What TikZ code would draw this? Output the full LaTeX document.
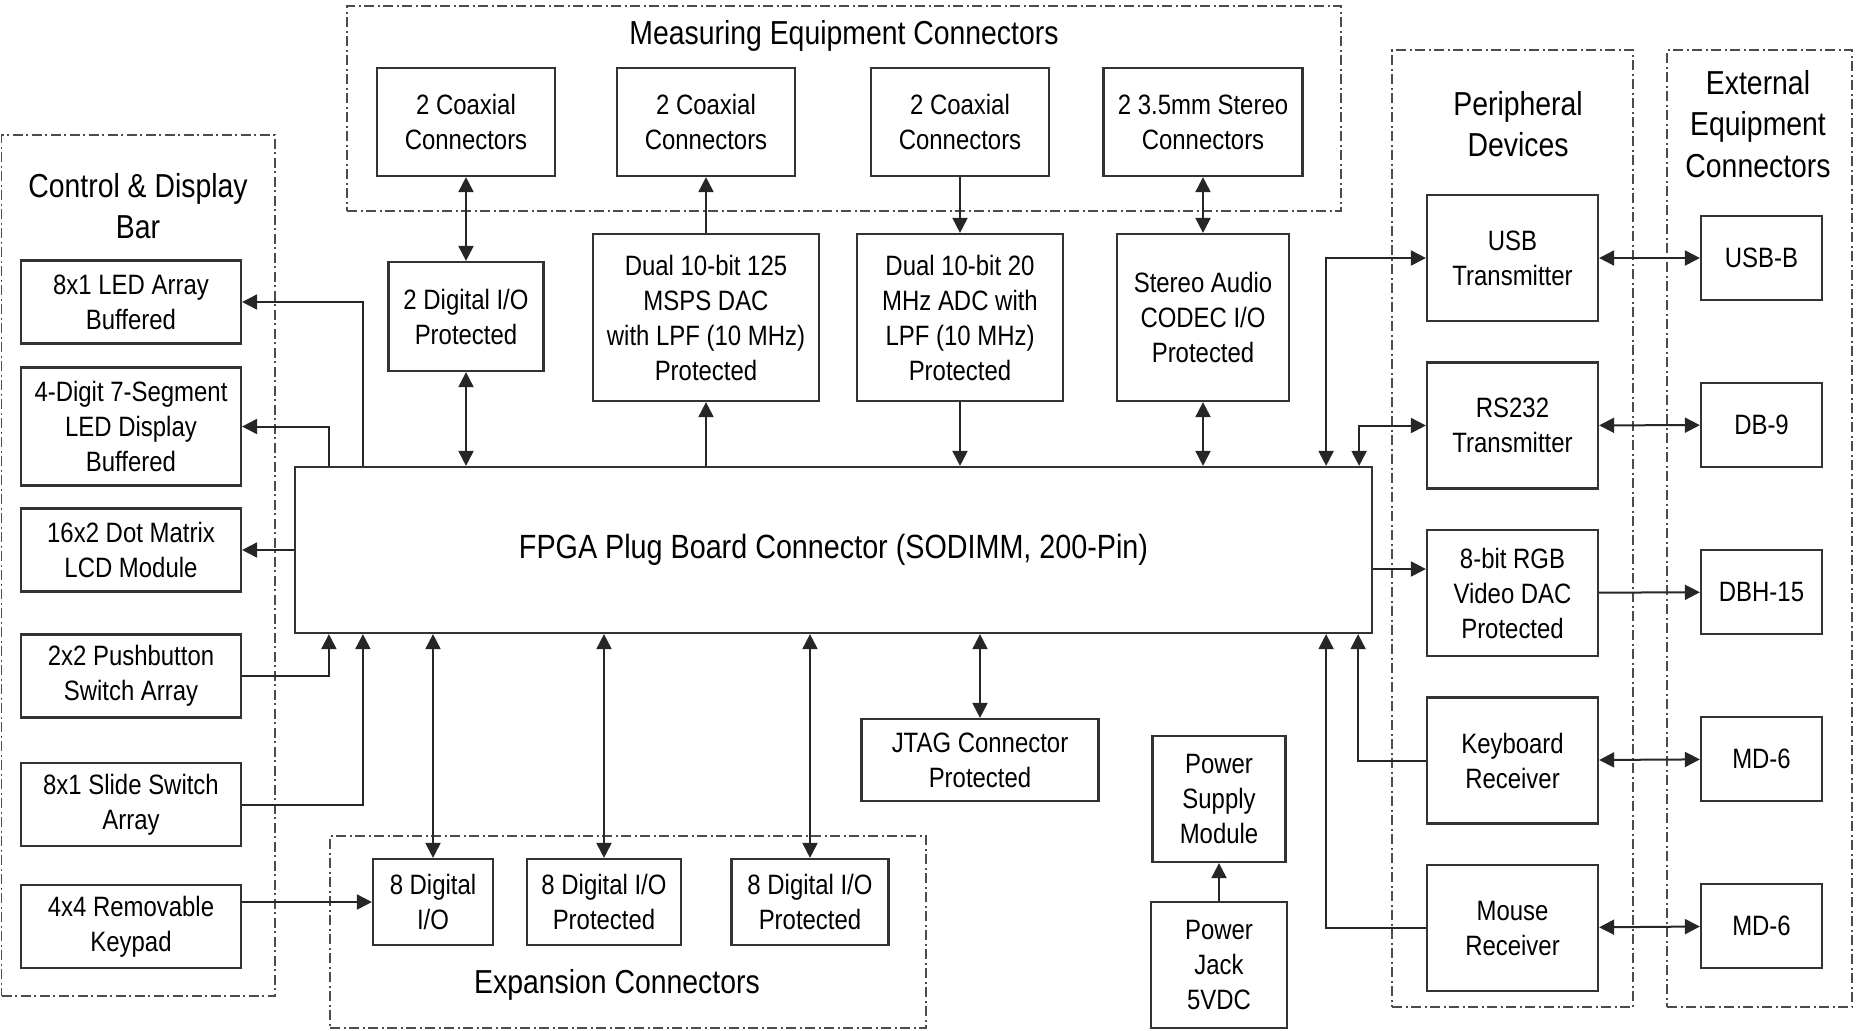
\documentclass[tikz,border=0pt]{standalone}
\usepackage{fontspec}
\setmainfont{Liberation Sans}[FakeStretch=0.855]
\usetikzlibrary{arrows.meta,positioning}

\begin{document}
\begin{tikzpicture}[
    x=0.5pt, y=-0.5pt,
    block/.style={draw=black!80, line width=1.1pt, align=center, inner sep=2pt, font=\fontsize{14}{17.5}\selectfont},
    grpframe/.style={draw=black!70, line width=0.8pt, dash pattern=on 5pt off 1.75pt on 1pt off 1.75pt},
    grptitle/.style={align=center, font=\fontsize{16.6}{20.75}\selectfont},
    line/.style={-{Triangle[length=7.5pt,width=7.5pt]}, line width=1pt, draw=black!85},
    biline/.style={{Triangle[length=7.5pt,width=7.5pt]}-{Triangle[length=7.5pt,width=7.5pt]}, line width=1pt, draw=black!85}
]
\useasboundingbox (0,0) rectangle (1861,1030);

% dash-dot group frames and their titles
\node[grpframe, minimum width=497pt, minimum height=102.5pt] (measgrp) at (844,108.5) {};
\node[grpframe, minimum width=136.75pt, minimum height=430.5pt] (ctrlgrp) at (138.25,565.5) {};
\node[grpframe, minimum width=298pt, minimum height=96pt] (expgrp) at (628,932) {};
\node[grpframe, minimum width=120.5pt, minimum height=478.5pt] (perigrp) at (1512.5,528.5) {};
\node[grpframe, minimum width=92.5pt, minimum height=478.5pt] (extgrp) at (1759.5,528.5) {};

\node[grptitle] (meastitle) at (844,36) {Measuring Equipment Connectors};
\node[grptitle] (ctrltitle) at (138,206) {Control \& Display\\Bar};
\node[grptitle] (exptitle) at (617,985) {Expansion Connectors};
\node[grptitle] (perititle) at (1518,124) {Peripheral\\Devices};
\node[grptitle] (exttitle) at (1758,124) {External\\Equipment\\Connectors};

% measuring equipment row
\node[block, minimum width=89pt, minimum height=54pt] (coax1) at (466,122) {2 Coaxial\\Connectors};
\node[block, minimum width=89pt, minimum height=54pt] (coax2) at (706,122) {2 Coaxial\\Connectors};
\node[block, minimum width=89pt, minimum height=54pt] (coax3) at (960,122) {2 Coaxial\\Connectors};
\node[block, minimum width=99.5pt, minimum height=54pt] (stereo) at (1203,122) {2 3.5mm Stereo\\Connectors};

\node[block, minimum width=77.5pt, minimum height=54.5pt, below=41.9pt of coax1] (dio) {2 Digital I/O\\Protected};
\node[block, minimum width=113pt, minimum height=83.5pt, below=27.9pt of coax2] (dac) {Dual 10-bit 125\\MSPS DAC\\with LPF (10 MHz)\\Protected};
\node[block, minimum width=103pt, minimum height=83.5pt, below=27.9pt of coax3] (adc) {Dual 10-bit 20\\MHz ADC with\\LPF (10 MHz)\\Protected};
\node[block, minimum width=86pt, minimum height=83.5pt, below=27.9pt of stereo] (codec) {Stereo Audio\\CODEC I/O\\Protected};

% plug board
\node[block, minimum width=538.5pt, minimum height=83pt, font=\fontsize{16.8}{20}\selectfont] (fpga) at (833.5,550) {FPGA Plug Board Connector (SODIMM, 200-Pin)};

% control & display bar
\node[block, minimum width=110pt, minimum height=41.5pt] (led) at (131,302) {8x1 LED Array\\Buffered};
\node[block, minimum width=110pt, minimum height=59pt, below=10.9pt of led] (seg) {4-Digit 7-Segment\\LED Display\\Buffered};
\node[block, minimum width=110pt, minimum height=41.5pt, below=10.4pt of seg] (lcd) {16x2 Dot Matrix\\LCD Module};
\node[block, minimum width=110pt, minimum height=41.5pt, below=20.4pt of lcd] (push) {2x2 Pushbutton\\Switch Array};
\node[block, minimum width=110pt, minimum height=41.5pt, below=21.65pt of push] (slide) {8x1 Slide Switch\\Array};
\node[block, minimum width=110pt, minimum height=41.5pt, below=18.4pt of slide] (keypad) {4x4 Removable\\Keypad};

% expansion connectors, JTAG, power
\node[block, minimum width=60pt, minimum height=43pt] (dioa) at (433,902) {8 Digital\\I/O};
\node[block, minimum width=77pt, minimum height=43pt] (diob) at (604,902) {8 Digital I/O\\Protected};
\node[block, minimum width=78.5pt, minimum height=43pt] (dioc) at (810,902) {8 Digital I/O\\Protected};
\node[block, minimum width=118.5pt, minimum height=41pt] (jtag) at (980,760) {JTAG Connector\\Protected};
\node[block, minimum width=66.5pt, minimum height=63pt] (psu) at (1219,799) {Power\\Supply\\Module};
\node[block, minimum width=68pt, minimum height=63pt, below=18.9pt of psu] (jack) {Power\\Jack\\5VDC};

% peripheral devices
\node[block, minimum width=85.5pt, minimum height=63pt] (usb) at (1512.5,258) {USB\\Transmitter};
\node[block, minimum width=85.5pt, minimum height=63pt, below=19.65pt of usb] (rs232) {RS232\\Transmitter};
\node[block, minimum width=85.5pt, minimum height=63pt, below=19.65pt of rs232] (rgb) {8-bit RGB\\Video DAC\\Protected};
\node[block, minimum width=85.5pt, minimum height=63pt, below=19.65pt of rgb] (kbd) {Keyboard\\Receiver};
\node[block, minimum width=85.5pt, minimum height=63pt, below=19.65pt of kbd] (mouse) {Mouse\\Receiver};

% external equipment connectors
\node[block, minimum width=60.5pt, minimum height=42pt] (usbb) at (1761.5,258) {USB-B};
\node[block, minimum width=60.5pt, minimum height=42pt, below=40.4pt of usbb] (db9) {DB-9};
\node[block, minimum width=60.5pt, minimum height=42pt, below=40.4pt of db9] (dbh) {DBH-15};
\node[block, minimum width=60.5pt, minimum height=42pt, below=40.4pt of dbh] (mda) {MD-6};
\node[block, minimum width=60.5pt, minimum height=42pt, below=40.4pt of mda] (mdb) {MD-6};

\coordinate (rgbin) at ([yshift=12pt]rgb.west);

% top connections
\draw[biline] (coax1) -- (dio);
\draw[biline] (dio) -- (dio |- fpga.north);
\draw[line] (dac) -- (coax2);
\draw[line] (fpga.north -| dac) -- (dac);
\draw[line] (coax3) -- (adc);
\draw[line] (adc) -- (adc |- fpga.north);
\draw[biline] (stereo) -- (codec);
\draw[biline] (codec) -- (codec |- fpga.north);

% control & display bar
\draw[line] ([xshift=34.5pt]fpga.north west) |- (led);
\draw[line] ([xshift=17.5pt]fpga.north west) |- (seg);
\draw[line] (fpga.west |- lcd) -- (lcd);
\draw[line] (push) -| ([xshift=17.5pt]fpga.south west);
\draw[line] (slide) -| ([xshift=34.5pt]fpga.south west);
\draw[line] (keypad.east |- dioa) -- (dioa);

% bottom connections
\draw[biline] (fpga.south -| dioa) -- (dioa);
\draw[biline] (fpga.south -| diob) -- (diob);
\draw[biline] (fpga.south -| dioc) -- (dioc);
\draw[biline] (fpga.south -| jtag) -- (jtag);
\draw[line] (jack) -- (psu);

% peripherals
\draw[biline] ([xshift=-23.5pt]fpga.north east) |- (usb);
\draw[biline] ([xshift=-7pt]fpga.north east) |- (rs232);
\draw[line] (fpga.east |- rgbin) -- (rgbin);
\draw[line] (kbd) -| ([xshift=-7.5pt]fpga.south east);
\draw[line] (mouse) -| ([xshift=-23.5pt]fpga.south east);

\draw[biline] (usb) -- (usbb);
\draw[biline] (rs232) -- (db9);
\draw[line] (rgb) -- (dbh);
\draw[biline] (kbd) -- (mda);
\draw[biline] (mouse) -- (mdb);
\end{tikzpicture}
\end{document}
